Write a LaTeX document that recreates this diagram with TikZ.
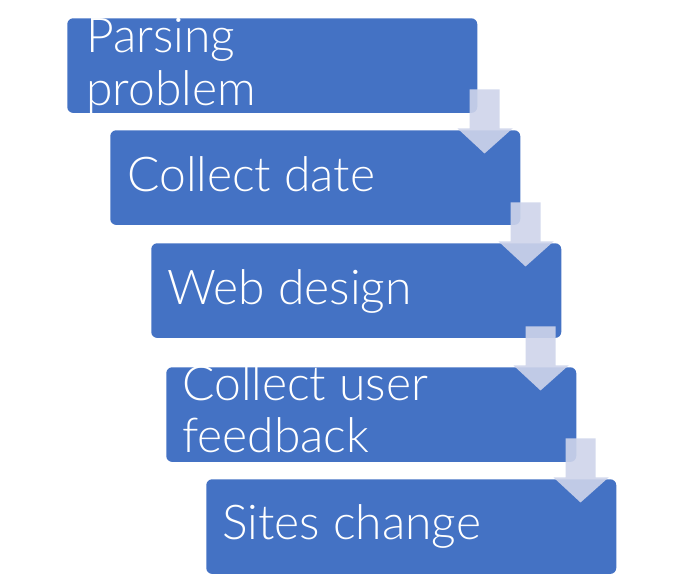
\documentclass[tikz,border=0pt]{standalone}
\usepackage{fontspec}
\setmainfont{Lato Light}
\definecolor{boxblue}{HTML}{4472C4}
\definecolor{arrowlav}{HTML}{CED4EA}
\begin{document}
\begin{tikzpicture}[x=0.75pt,y=-0.75pt,
  stepbox/.style={draw=none,fill=boxblue,rounded corners=4.5pt,inner sep=0pt,
    minimum width=307.5pt,minimum height=71pt,anchor=north west},
  steptext/.style={text=white,anchor=base west,inner sep=0pt,
    font=\fontsize{36}{39.75}\selectfont},
  flowarrow/.style={fill=arrowlav,fill opacity=0.9,draw=none}]
\useasboundingbox (0,0) rectangle (682,580);
\node[stepbox] (b1) at (67,18) {};
\node[stepbox] (b2) at (110,130) {};
\node[stepbox] (b3) at (151,243) {};
\node[stepbox] (b4) at (166,367) {};
\node[stepbox] (b5) at (206,479) {};
\node[steptext] (t1a) at (86,53) {Parsing};
\node[steptext] (t1b) at (86,106) {problem};
\node[steptext] (t2) at (127,192) {Collect date};
\node[steptext] (t3) at (167,305) {Web design};
\node[steptext] (t4a) at (182,401) {Collect user};
\node[steptext] (t4b) at (182,453) {feedback};
\node[steptext] (t5) at (222,540) {Sites change};
% arrows: shaft 30 wide, 39 tall; head 55 wide, 25 tall
\foreach \nb [count=\i] in {b2,b3,b4,b5}{
  \path (\nb.north east) ++(-36,-1.5) coordinate (hd\i);
  \fill[flowarrow] (hd\i) ++(-15,-39) -- ++(30,0) -- ++(0,39) -- ++(13,0)
     -- ++(-28,25) -- ++(-27,-25) -- ++(12,0) -- cycle;
}
\end{tikzpicture}
\end{document}
